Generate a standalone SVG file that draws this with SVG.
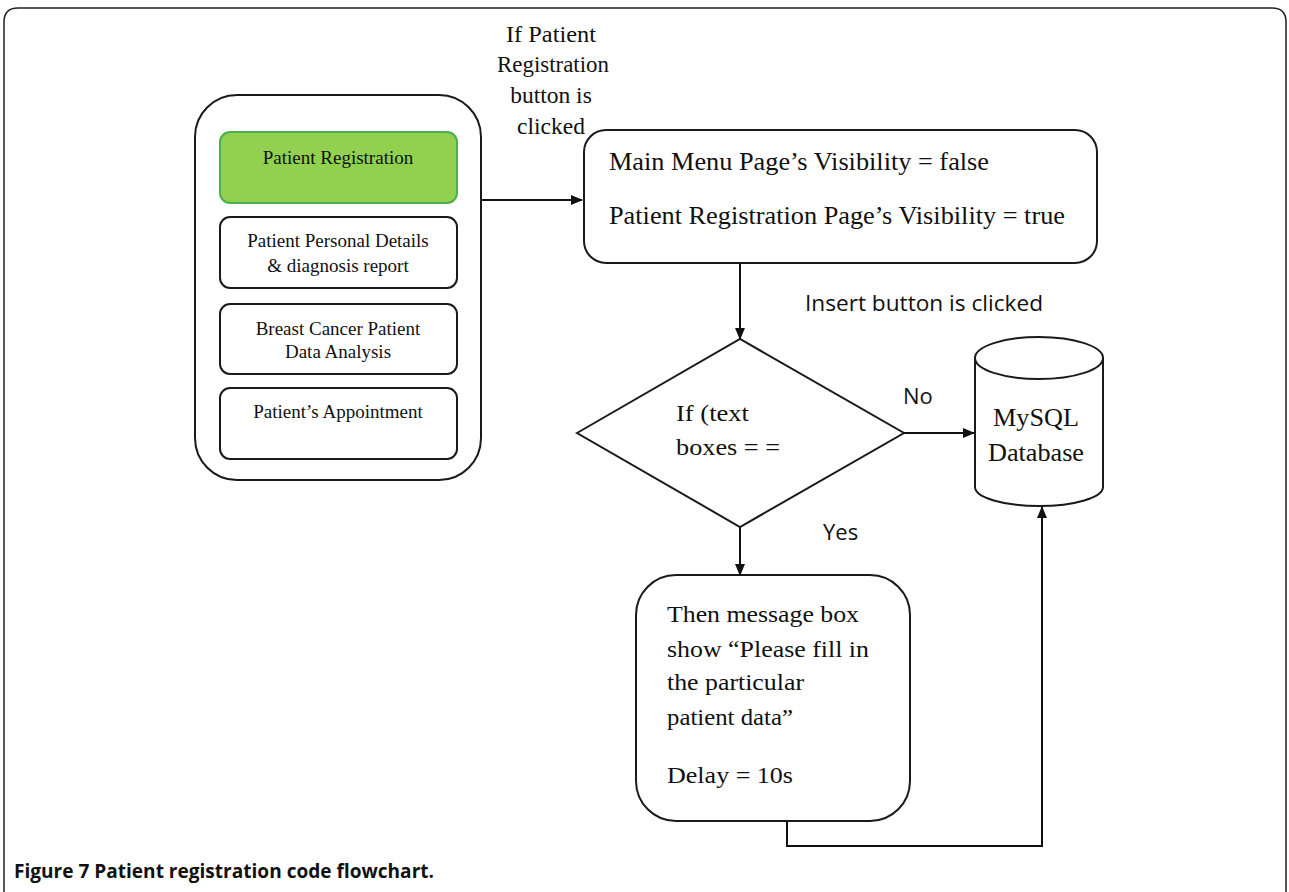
<svg xmlns="http://www.w3.org/2000/svg" width="1289" height="892" viewBox="0 0 1289 892">
<defs>
<style>
.box{fill:#fff;stroke:#1a1a1a;stroke-width:2}
.ser{font-family:"Liberation Serif","Times New Roman",serif;fill:#111}
.san{font-family:"Open Sans","Liberation Sans",sans-serif;fill:#111}
.conn{fill:none;stroke:#111;stroke-width:2}
</style>
<marker id="ah" markerWidth="12" markerHeight="10" refX="11" refY="5" orient="auto" markerUnits="userSpaceOnUse">
<path d="M0,0 L12,5 L0,10 Z" fill="#111"/>
</marker>
</defs>
<rect width="1289" height="892" fill="#fff"/>
<path d="M4,900 L4,22 Q4,8 18,8 L1272,8 Q1286,8 1286,22 L1286,900" fill="none" stroke="#222" stroke-width="1.5"/>
<g id="menu">
<rect class="box" x="195" y="95" width="286" height="385" rx="42"/>
<g id="btn-registration">
<rect x="220" y="132" width="237" height="71" rx="10" fill="#92d050" stroke="#4caf50" stroke-width="2"/>
<text class="ser" x="338" y="164" font-size="19" text-anchor="middle">Patient Registration</text>
</g>
<g id="btn-details">
<rect class="box" x="220" y="217" width="237" height="71" rx="10" stroke-width="1.5"/>
<text class="ser" x="338" y="247" font-size="19" text-anchor="middle">Patient Personal Details</text>
<text class="ser" x="338" y="272" font-size="19" text-anchor="middle">&amp; diagnosis report</text>
</g>
<g id="btn-analysis">
<rect class="box" x="220" y="304" width="237" height="70" rx="10" stroke-width="1.5"/>
<text class="ser" x="338" y="335" font-size="19" text-anchor="middle">Breast Cancer Patient</text>
<text class="ser" x="338" y="358" font-size="19" text-anchor="middle">Data Analysis</text>
</g>
<g id="btn-appointment">
<rect class="box" x="220" y="388" width="237" height="71" rx="10" stroke-width="1.5"/>
<text class="ser" x="338" y="418" font-size="19" text-anchor="middle">Patient’s Appointment</text>
</g>
</g>
<g id="visibility">
<rect class="box" x="584" y="130" width="513" height="133" rx="22"/>
<text class="ser" x="609" y="170" font-size="25" textLength="380" lengthAdjust="spacingAndGlyphs">Main Menu Page’s Visibility = false</text>
<text class="ser" x="609" y="224" font-size="25" textLength="456" lengthAdjust="spacingAndGlyphs">Patient Registration Page’s Visibility = true</text>
</g>
<g id="decision">
<polygon class="box" points="577,433 740,339 904,433 740,527"/>
<text class="ser" x="676" y="421" font-size="24" textLength="73" lengthAdjust="spacingAndGlyphs">If (text</text>
<text class="ser" x="676" y="455" font-size="24" textLength="104" lengthAdjust="spacingAndGlyphs">boxes = =</text>
</g>
<g id="database">
<path class="box" d="M975,358 L975,487 A64,19 0 0 0 1103,487 L1103,358"/>
<ellipse class="box" cx="1039" cy="358" rx="64" ry="21"/>
<text class="ser" x="1036" y="426" font-size="25" text-anchor="middle" textLength="86" lengthAdjust="spacingAndGlyphs">MySQL</text>
<text class="ser" x="1036" y="461" font-size="25" text-anchor="middle" textLength="96" lengthAdjust="spacingAndGlyphs">Database</text>
</g>
<g id="message">
<rect class="box" x="636" y="575" width="274" height="246" rx="40"/>
<text class="ser" x="667" y="622" font-size="24" textLength="192" lengthAdjust="spacingAndGlyphs">Then message box</text>
<text class="ser" x="667" y="657" font-size="24" textLength="202" lengthAdjust="spacingAndGlyphs">show “Please fill in</text>
<text class="ser" x="667" y="690" font-size="24" textLength="137" lengthAdjust="spacingAndGlyphs">the particular</text>
<text class="ser" x="667" y="725" font-size="24" textLength="126" lengthAdjust="spacingAndGlyphs">patient data”</text>
<text class="ser" x="667" y="783" font-size="24" textLength="126" lengthAdjust="spacingAndGlyphs">Delay = 10s</text>
</g>
<g id="connectors">
<line class="conn" x1="481" y1="200" x2="582" y2="200" marker-end="url(#ah)"/>
<line class="conn" x1="740" y1="263" x2="740" y2="339" marker-end="url(#ah)"/>
<line class="conn" x1="904" y1="433" x2="974" y2="433" marker-end="url(#ah)"/>
<line class="conn" x1="740" y1="527" x2="740" y2="575" marker-end="url(#ah)"/>
<polyline class="conn" points="787,821 787,846 1042,846 1042,507" marker-end="url(#ah)"/>
</g>
<g id="labels">
<text class="ser" x="551" y="42" font-size="23.5" text-anchor="middle" textLength="90" lengthAdjust="spacingAndGlyphs">If Patient</text>
<text class="ser" x="553" y="72" font-size="23.5" text-anchor="middle" textLength="112" lengthAdjust="spacingAndGlyphs">Registration</text>
<text class="ser" x="551" y="103" font-size="23.5" text-anchor="middle">button is</text>
<text class="ser" x="551" y="134" font-size="23.5" text-anchor="middle">clicked</text>
<text class="san" x="805" y="311" font-size="22.5" textLength="238" lengthAdjust="spacingAndGlyphs">Insert button is clicked</text>
<text class="san" x="903" y="404" font-size="22">No</text>
<text class="san" x="823" y="540" font-size="22">Yes</text>
</g>
<text class="san" x="14" y="878" font-size="19" font-weight="bold" textLength="420" lengthAdjust="spacingAndGlyphs">Figure 7 Patient registration code flowchart.</text>
</svg>
